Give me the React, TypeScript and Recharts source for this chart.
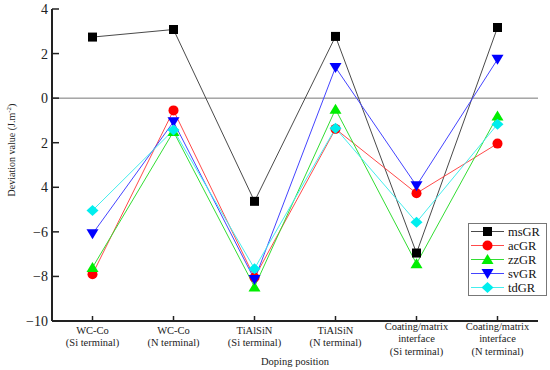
import { Label, Line, LineChart, ReferenceLine, XAxis, YAxis } from "recharts";

const positions = [
  ["WC-Co", "(Si terminal)"],
  ["WC-Co", "(N terminal)"],
  ["TiAlSiN", "(Si terminal)"],
  ["TiAlSiN", "(N terminal)"],
  ["Coating/matrix", "interface", "(Si terminal)"],
  ["Coating/matrix", "interface", "(N terminal)"],
];

const msGR = [2.74, 3.08, -4.63, 2.77, -6.95, 3.17];
const acGR = [-7.9, -0.55, -8.05, -1.38, -4.27, -2.04];
const zzGR = [-7.6, -1.5, -8.47, -0.5, -7.43, -0.8];
const svGR = [-6.09, -1.06, -8.14, 1.38, -3.93, 1.74];
const tdGR = [-5.04, -1.43, -7.65, -1.35, -5.57, -1.17];

const yTicks = [4, 2, 0, -2, -4, -6, -8, -10];
const yTickLabels = ["4", "2", "0", "2", "4", "\u22126", "\u22128", "\u221210"];

const series = [
  { key: "msGR", values: msGR, line: "#4a4a4a", fill: "#000000", shape: "square" },
  { key: "acGR", values: acGR, line: "#ff4a4a", fill: "#ff0000", shape: "circle" },
  { key: "zzGR", values: zzGR, line: "#33dd33", fill: "#00ee00", shape: "triangle" },
  { key: "svGR", values: svGR, line: "#4444ff", fill: "#0000ff", shape: "triangleDown" },
  { key: "tdGR", values: tdGR, line: "#44eeee", fill: "#00eeee", shape: "diamond" },
];

const data = positions.map((_, i) => {
  const row: Record<string, number> = { x: i };
  series.forEach((s) => (row[s.key] = s.values[i]));
  return row;
});

const FONT = "'Liberation Serif', 'DejaVu Serif', serif";

function Marker({ cx, cy, shape, fill }: { cx: number; cy: number; shape: string; fill: string }) {
  if (cx == null || cy == null) return null;
  switch (shape) {
    case "square":
      return <rect x={cx - 4.5} y={cy - 4.5} width={9} height={9} fill={fill} />;
    case "circle":
      return <circle cx={cx} cy={cy} r={5} fill={fill} />;
    case "triangle":
      return <polygon points={`${cx},${cy - 5.5} ${cx + 6},${cy + 4.5} ${cx - 6},${cy + 4.5}`} fill={fill} />;
    case "triangleDown":
      return <polygon points={`${cx},${cy + 5.5} ${cx + 6},${cy - 4.5} ${cx - 6},${cy - 4.5}`} fill={fill} />;
    default:
      return <polygon points={`${cx},${cy - 5.5} ${cx + 6},${cy} ${cx},${cy + 5.5} ${cx - 6},${cy}`} fill={fill} />;
  }
}

function XTick({ x, y, payload }: any) {
  const lines = positions[payload.value] ?? [];
  const top = lines.length > 2 ? y + 9 : y + 13;
  return (
    <g>
      <line x1={x} x2={x} y1={y} y2={y - 5} stroke="#222" strokeWidth={1.5} />
      <text x={x} y={top} textAnchor="middle" fontFamily={FONT} fontSize={10.5} fill="#222">
        {lines.map((t: string, i: number) => (
          <tspan key={i} x={x} dy={i === 0 ? 0 : 12.3}>
            {t}
          </tspan>
        ))}
      </text>
    </g>
  );
}

function YTick({ x, y, payload }: any) {
  const idx = yTicks.indexOf(payload.value);
  return (
    <g>
      <line x1={x} x2={x + 7} y1={y} y2={y} stroke="#222" strokeWidth={1.5} />
      <text x={x - 4} y={y + 5} textAnchor="end" fontFamily={FONT} fontSize={14} fill="#222">
        {yTickLabels[idx]}
      </text>
    </g>
  );
}

function LegendBox() {
  return (
    <div
      style={{
        position: "absolute",
        left: 468,
        top: 223,
        width: 79,
        height: 73,
        border: "1.5px solid #777",
        background: "#fff",
        boxSizing: "border-box",
      }}
    >
      <svg width={76} height={70} style={{ display: "block", overflow: "visible" }}>
        {series.map((s, i) => {
          const cy = 7.5 + i * 14;
          return (
            <g key={s.key}>
              <line x1={2} x2={35} y1={cy} y2={cy} stroke={s.line} strokeWidth={1} />
              <Marker cx={18.5} cy={cy} shape={s.shape} fill={s.fill} />
              <text x={39} y={cy + 4.3} fontFamily={FONT} fontSize={12.5} fill="#111">
                {s.key}
              </text>
            </g>
          );
        })}
      </svg>
    </div>
  );
}

export default function App() {
  return (
    <div style={{ position: "absolute", left: 0, top: 0, width: 550, height: 370, background: "#fff" }}>
      <LineChart width={550} height={370} data={data} margin={{ top: 9, right: 12, bottom: 0, left: 0 }}>
        <XAxis
          type="number"
          dataKey="x"
          domain={[-0.5, 5.5]}
          ticks={[0, 1, 2, 3, 4, 5]}
          tick={<XTick />}
          tickLine={false}
          tickSize={0}
          tickMargin={0}
          height={49}
          axisLine={{ stroke: "#222", strokeWidth: 2 }}
          interval={0}
        >
          <Label
            content={() => (
              <text x={295} y={365} textAnchor="middle" fontFamily={FONT} fontSize={10.5} fill="#222">
                Doping position
              </text>
            )}
          />
        </XAxis>
        <YAxis
          type="number"
          domain={[-10, 4]}
          ticks={yTicks}
          tick={<YTick />}
          tickLine={false}
          tickSize={0}
          tickMargin={0}
          width={52}
          axisLine={{ stroke: "#222", strokeWidth: 2 }}
          interval={0}
        >
          <Label
            content={() => (
              <text
                x={0}
                y={0}
                transform="translate(15,150) rotate(-90)"
                textAnchor="middle"
                fontFamily={FONT}
                fontSize={10}
                fill="#222"
              >
                Deviation value (J.m
                <tspan dy={-4} fontSize={7}>
                  -2
                </tspan>
                <tspan dy={4}>)</tspan>
              </text>
            )}
          />
        </YAxis>
        <ReferenceLine y={0} stroke="#777" strokeWidth={1} />
        {series.map((s) => (
          <Line
            key={s.key}
            type="linear"
            dataKey={s.key}
            stroke={s.line}
            strokeWidth={1}
            isAnimationActive={false}
            dot={(p: any) => <Marker key={`${s.key}-${p.index}`} cx={p.cx} cy={p.cy} shape={s.shape} fill={s.fill} />}
            activeDot={false}
          />
        ))}
      </LineChart>
      <LegendBox />
    </div>
  );
}
